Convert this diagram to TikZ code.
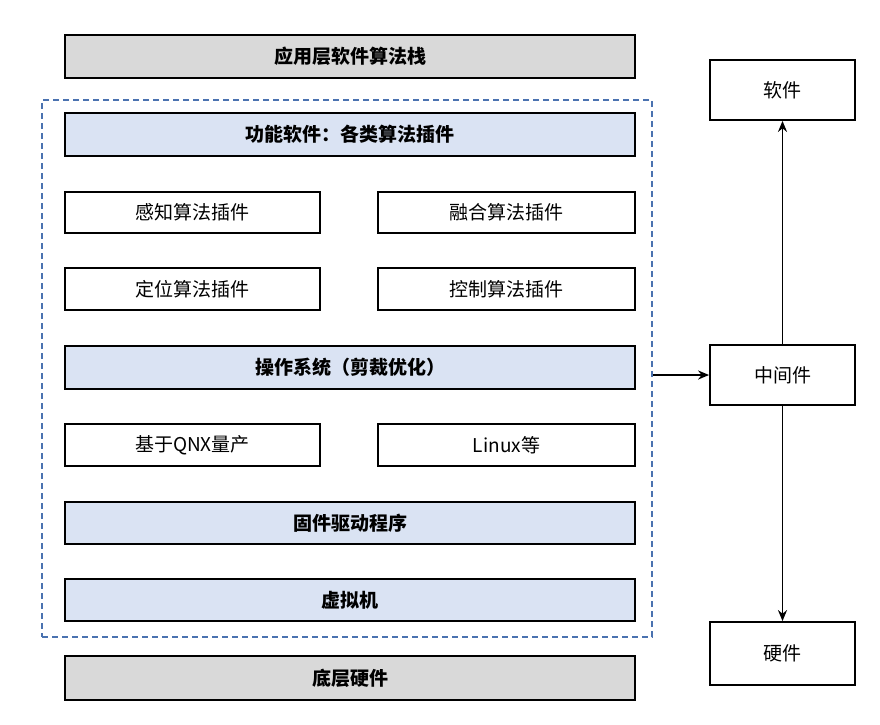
\documentclass[tikz,border=0pt]{standalone}
\usepackage{fontspec}
\setmainfont{Noto Sans CJK SC}
\usetikzlibrary{arrows.meta}
\definecolor{gr}{HTML}{D9D9D9}
\definecolor{lb}{HTML}{DAE3F3}
\definecolor{db}{HTML}{4A72B0}
\begin{document}
\begin{tikzpicture}[x=1pt,y=-1pt,
 box/.style={draw=black,line width=1.8pt,inner sep=0pt,font=\fontsize{19}{22}\selectfont},
 hd/.style={box,font=\fontsize{19}{22}\selectfont\bfseries},
 arr/.style={-{Stealth[length=11pt,width=9pt]},line width=1.8pt}]
\useasboundingbox (0,0) rectangle (880,724);
\def\bx#1#2#3#4#5#6#7{\node[#6,minimum width=#3-#1,minimum height=#4-#2] (#7) at ({(#1+#3)/2},{(#2+#4)/2}) {#5};}
\bx{65}{35}{635}{78}{应用层软件算法栈}{hd,fill=gr}{app}
\node[draw=db,line width=1.8pt,dash pattern=on 6pt off 4pt,minimum width=610,minimum height=537,inner sep=0pt] (dash) at (347,368.5) {};
\bx{65}{113}{635}{156}{功能软件：各类算法插件}{hd,fill=lb}{func}
\bx{65}{192}{320}{233}{感知算法插件}{box}{p1}
\bx{378}{192}{635}{233}{融合算法插件}{box}{p2}
\bx{65}{268}{320}{310}{定位算法插件}{box}{p3}
\bx{378}{268}{635}{310}{控制算法插件}{box}{p4}
\bx{65}{346}{635}{389}{操作系统（剪裁优化）}{hd,fill=lb}{os}
\bx{65}{424}{320}{466}{基于QNX量产}{box}{q}
\bx{378}{424}{635}{466}{Linux等}{box}{l}
\bx{65}{502}{635}{544}{固件驱动程序}{hd,fill=lb}{fw}
\bx{65}{579}{635}{621}{虚拟机}{hd,fill=lb}{vm}
\bx{65}{656}{635}{700}{底层硬件}{hd,fill=gr}{hw}
\bx{710}{60}{855}{120}{软件}{box}{sw}
\bx{710}{345}{855}{405}{中间件}{box}{mw}
\bx{710}{622}{855}{685}{硬件}{box}{hwr}
\draw[arr] (dash.east |- mw.west) -- (mw.west);
\draw[arr] (mw.north) -- (sw.south);
\draw[arr] (mw.south) -- (hwr.north);
\end{tikzpicture}
\end{document}
